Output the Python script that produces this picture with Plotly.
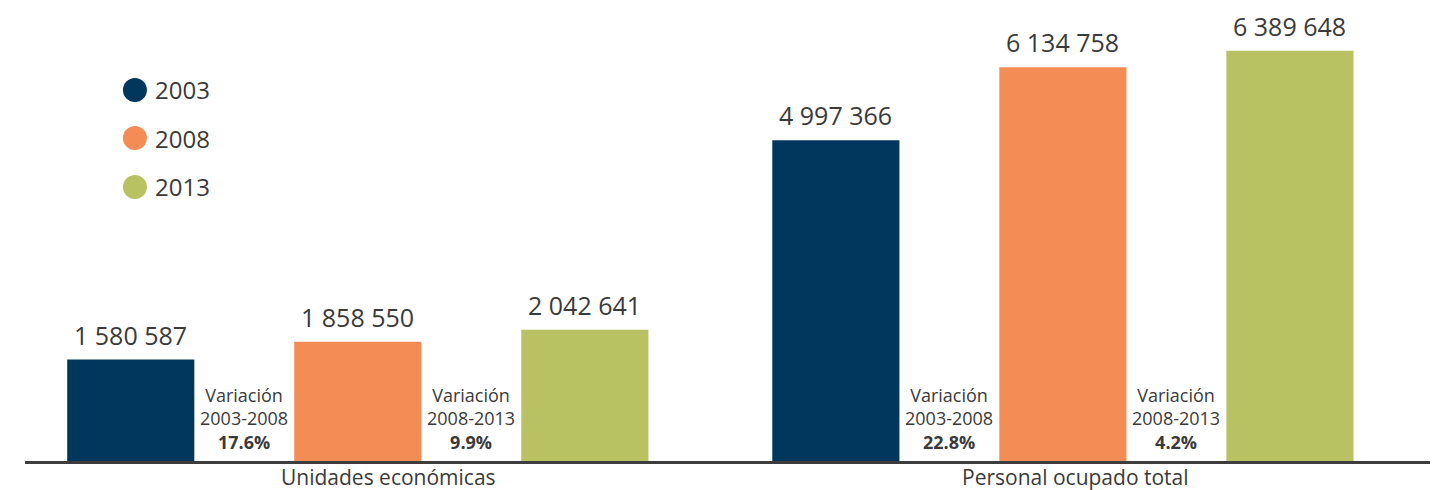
import plotly.graph_objects as go

categories = ["Unidades económicas", "Personal ocupado total"]
years = ["2003", "2008", "2013"]
v2003 = [1580587, 4997366]
v2008 = [1858550, 6134758]
v2013 = [2042641, 6389648]
var_labels = ["2003-2008", "2008-2013"]
var_0308 = ["17.6%", "22.8%"]
var_0813 = ["9.9%", "4.2%"]

colors = ["#02375d", "#f48c56", "#b8c263"]
text_color = "#3a3a3a"
font = "Open Sans"

bargap = 0.034
step = (1 - bargap) / 3
label_shift = [31, 13]  # category labels sit a bit right of the group centre

fig = go.Figure()
for k, (yr, vals, col) in enumerate(zip(years, [v2003, v2008, v2013], colors)):
    fig.add_trace(go.Bar(
        x=categories, y=vals, name=yr, marker_color=col, marker_line_width=0,
        showlegend=False,
    ))
    # value labels above bars
    for i, v in enumerate(vals):
        fig.add_annotation(
            x=i + (k - 1) * step, xref="x", y=v, yref="y",
            yanchor="bottom", yshift=6, showarrow=False,
            text=f"{v:,}".replace(",", " "),
            font=dict(size=25, color=text_color, family=font),
        )

# variation notes between bars
for i, cat in enumerate(categories):
    for j, pct in enumerate([var_0308[i], var_0813[i]]):
        fig.add_annotation(
            x=i - step / 2 + j * step, xref="x", y=0, yref="y",
            yanchor="bottom", yshift=5, showarrow=False,
            text=f"Variación<br>{var_labels[j]}<br><b>{pct}</b>",
            font=dict(size=18, color=text_color, family=font),
        )
    fig.add_annotation(
        x=i, xref="x", y=0, yref="paper", yanchor="top", yshift=0,
        xshift=label_shift[i], showarrow=False, text=cat,
        font=dict(size=21, color=text_color, family=font),
    )

# legend as circles
leg_y = [0.8190, 0.7130, 0.6049]
for yr, col, yy in zip(years, colors, leg_y):
    fig.add_shape(type="circle", xref="paper", yref="paper",
                  xsizemode="pixel", ysizemode="pixel",
                  xanchor=0.0778, yanchor=yy, x0=-12, x1=12, y0=-12, y1=12,
                  fillcolor=col, line_width=0)
    fig.add_annotation(x=0.0906, y=yy, xref="paper", yref="paper",
                       xanchor="left", yanchor="middle", showarrow=False,
                       text=yr, font=dict(size=24, color=text_color, family=font))

fig.update_layout(
    width=1430, height=482,
    margin=dict(l=17, r=0, t=0, b=29),
    barmode="group", bargap=bargap, bargroupgap=0.44,
    plot_bgcolor="white", paper_bgcolor="white",
    xaxis=dict(range=[-0.472, 1.532], showticklabels=False, ticks="",
               showline=True, linecolor="#3d3d3d", linewidth=2.5,
               showgrid=False, zeroline=False),
    yaxis=dict(range=[0, 7056000], visible=False, showgrid=False),
)

fig.write_html("out.html")
